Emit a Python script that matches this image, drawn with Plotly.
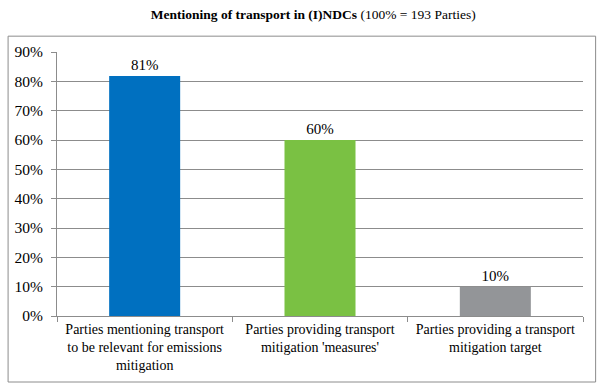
import plotly.graph_objects as go

categories = [
    "Parties mentioning transport<br>to be relevant for emissions<br>mitigation",
    "Parties providing transport<br>mitigation 'measures'",
    "Parties providing a transport<br>mitigation target",
]
values = [0.818, 0.60, 0.10]
value_labels = ["81%", "60%", "10%"]
colors = ["#0070C0", "#7AC143", "#939598"]
tick_vals = [0, 0.1, 0.2, 0.3, 0.4, 0.5, 0.6, 0.7, 0.8, 0.9]
tick_text = ["0%", "10%", "20%", "30%", "40%", "50%", "60%", "70%", "80%", "90%"]

font_family = "Liberation Serif"

fig = go.Figure(
    go.Bar(
        x=categories,
        y=values,
        marker=dict(color=colors, line=dict(width=0)),
        text=value_labels,
        textposition="outside",
        textfont=dict(family=font_family, size=15, color="black"),
        cliponaxis=False,
        width=0.405,
    )
)

fig.update_layout(
    width=600,
    height=387,
    margin=dict(l=57, r=17, t=52, b=71, autoexpand=False),
    paper_bgcolor="white",
    plot_bgcolor="white",
    showlegend=False,
    font=dict(family=font_family, size=14, color="black"),
    title=dict(
        text="<b>Mentioning of transport in (I)NDCs</b> (100% = 193 Parties)",
        x=0.522,
        xanchor="center",
        y=0.962,
        yanchor="middle",
        font=dict(family=font_family, size=13.5, color="black"),
    ),
    bargap=0.6,
)

fig.update_yaxes(
    range=[0, 0.9],
    tickvals=tick_vals,
    ticktext=tick_text,
    showgrid=True,
    gridcolor="#8C8C8C",
    gridwidth=1,
    showline=True,
    linecolor="#8C8C8C",
    linewidth=1,
    ticks="outside",
    ticklen=5,
    tickcolor="#8C8C8C",
    zeroline=False,
    automargin=False,
    ticklabelstandoff=5,
    tickfont=dict(family=font_family, size=15.5, color="black"),
)

fig.update_xaxes(
    showline=True,
    linecolor="#8C8C8C",
    linewidth=1,
    ticks="outside",
    tickson="boundaries",
    ticklen=5,
    tickcolor="#8C8C8C",
    automargin=False,
    tickangle=0,
    tickfont=dict(family=font_family, size=14, color="black"),
)

fig.add_shape(
    type="rect",
    xref="paper",
    yref="paper",
    x0=-0.093,
    x1=1.024,
    y0=-0.25,
    y1=1.06,
    line=dict(color="#8C8C8C", width=1),
    fillcolor="rgba(0,0,0,0)",
    layer="below",
)

fig.write_html(
    "out.html",
    config={"displayModeBar": False},
    post_script="document.body.style.margin='0px';document.body.style.overflow='hidden';",
)
